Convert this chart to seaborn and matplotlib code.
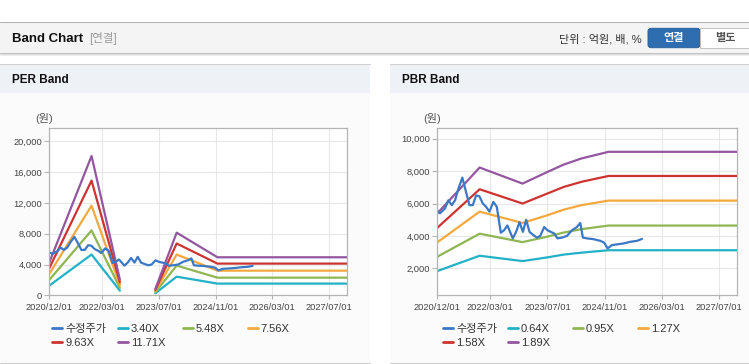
import matplotlib
matplotlib.use("Agg")
import matplotlib.pyplot as plt
import matplotlib.transforms as mtransforms
from matplotlib.patches import Rectangle, FancyBboxPatch
from matplotlib.lines import Line2D
import numpy as np
import pandas as pd
import seaborn as sns

W, H = 749, 364

# adjusted share price (shared by both charts)
price_dates = [
    "2020-12-01", "2020-12-29", "2021-02-10", "2021-03-10", "2021-04-08", "2021-05-06",
    "2021-06-03", "2021-07-07", "2021-08-08", "2021-09-05", "2021-10-04", "2021-11-01",
    "2021-11-29", "2021-12-28", "2022-01-25", "2022-02-22", "2022-03-28", "2022-04-26",
    "2022-05-30", "2022-06-27", "2022-07-25", "2022-08-17", "2022-09-09", "2022-10-07",
    "2022-11-05", "2022-12-04", "2023-01-01", "2023-01-29", "2023-03-04", "2023-04-02",
    "2023-04-30", "2023-06-03", "2023-07-01", "2023-07-30", "2023-08-27", "2023-09-24",
    "2023-11-01", "2023-12-13", "2024-01-25", "2024-03-07", "2024-04-05", "2024-04-27",
    "2024-06-01", "2024-07-27", "2024-09-22", "2024-10-26", "2024-11-23", "2024-12-31",
    "2025-02-11", "2025-04-09", "2025-06-05", "2025-08-01", "2025-09-12",
]
price = [
    5600, 5400, 5700, 6200, 5900, 6200,
    6900, 7600, 6700, 5900, 5900, 6500,
    6450, 6000, 5800, 5500, 6100, 5800,
    4200, 4350, 4650, 4250, 3850, 4250,
    4850, 4250, 5000, 4250, 4050, 3900,
    4000, 4550, 4350, 4250, 4150, 3850,
    3900, 4000, 4350, 4550, 4800, 3900,
    3850, 3800, 3700, 3580, 3230, 3440,
    3480, 3540, 3640, 3700, 3820,
]

# PER band (NaN = no value, line breaks)
per_dates = ["2020-12-01", "2021-12-01", "2022-08-01", "2023-03-01",
             "2023-06-01", "2023-12-01", "2024-11-15", "2027-12-01"]
per_labels = ["3.40X", "5.48X", "7.56X", "9.63X", "11.71X"]
per_340 = [1230, 5300, 600, np.nan, 260, 2420, 1520, 1520]
per_548 = [1960, 8430, 950, np.nan, 410, 3860, 2290, 2290]
per_756 = [2720, 11650, 1320, np.nan, 550, 5300, 3200, 3200]
per_963 = [3450, 14900, 1680, np.nan, 690, 6730, 4120, 4120]
per_1171 = [4170, 18100, 2030, np.nan, 820, 8140, 4940, 4940]

# PBR band
pbr_dates = ["2020-12-01", "2021-12-01", "2022-12-01", "2023-07-01",
             "2023-11-15", "2024-04-15", "2024-12-01", "2027-12-01"]
pbr_labels = ["0.64X", "0.95X", "1.27X", "1.58X", "1.89X"]
pbr_064 = [1820, 2780, 2450, 2680, 2850, 2970, 3120, 3120]
pbr_095 = [2700, 4140, 3620, 3960, 4210, 4420, 4640, 4640]
pbr_127 = [3580, 5500, 4800, 5280, 5620, 5900, 6180, 6180]
pbr_158 = [4470, 6880, 6000, 6620, 7020, 7340, 7700, 7700]
pbr_189 = [5350, 8220, 7230, 7950, 8400, 8780, 9190, 9190]

x_ticks = ["2020/12/01", "2022/03/01", "2023/07/01", "2024/11/01", "2026/03/01", "2027/07/01"]
per_yticks = [0, 4000, 8000, 12000, 16000, 20000]
pbr_yticks = [2000, 4000, 6000, 8000, 10000]

price_label = "수정주가"
price_color = "#3b78c6"
band_colors = ["#22b1c6", "#8fb653", "#f4a93e", "#cc3431", "#93569f"]

sns.set_style("white")
plt.rcParams["font.family"] = ["Liberation Sans", "Noto Sans CJK KR"]

fig = plt.figure(figsize=(W / 100, H / 100), dpi=100)
fig.patch.set_facecolor("white")
# pixel coordinates, y going down like the screenshot
px = mtransforms.Affine2D().scale(1 / W, -1 / H).translate(0, 1) + fig.transFigure


def rect(x0, y0, x1, y1, fc, ec="none", z=-5):
    fig.add_artist(Rectangle((x0, y0), x1 - x0, y1 - y0, transform=px,
                             facecolor=fc, edgecolor=ec, lw=0.7, zorder=z))


def hline(y, x0, x1, color):
    fig.add_artist(Line2D([x0, x1], [y, y], transform=px, color=color, lw=0.75, zorder=-4))


# header bar
rect(0, 22, W, 52.5, "#f4f4f4")
hline(22.3, 0, W, "#b2b2b2")
hline(52.6, 0, W, "#c2c2c2")
hline(53.6, 0, W, "#dedede")
hline(54.6, 0, W, "#eeeeee")
fig.text(11.5, 38.5, "Band Chart", transform=px, fontsize=9.5, weight="bold", va="center", color="#111111")
fig.text(89, 38.5, "[연결]", transform=px, fontsize=8.3, va="center", color="#999999")
fig.text(642, 39, "단위 : 억원, 배, %", transform=px, fontsize=8, va="center", ha="right", color="#333333")
fig.add_artist(FancyBboxPatch((648, 28.3), 52, 19.4, boxstyle="round,pad=0,rounding_size=3",
                              transform=px, fc="#2f6db1", ec="#2a62a0", lw=0.7))
fig.text(674, 38.5, "연결", transform=px, fontsize=8, weight="bold", va="center", ha="center", color="white")
rect(700, 28.3, 752, 47.7, "white", ec="#c0c0c0", z=1)
fig.text(725, 38.5, "별도", transform=px, fontsize=8, weight="bold", va="center", ha="center", color="#555555")

# panels
for x0, x1, title in [(0, 370, "PER Band"), (390, W, "PBR Band")]:
    rect(x0, 64, x1, 363, "#fbfbfb")
    rect(x0, 64, x1, 92.5, "#eef1f6")
    hline(64.3, x0, x1, "#d0d0d0")
    hline(363, x0, x1, "#cccccc")
    fig.text(x0 + 11.5, 80, title, transform=px, fontsize=8.5, weight="bold", va="center", color="#111111")


def long_frame(dates, bands, labels):
    frames = []
    for lab, vals in zip(labels, bands):
        v = pd.Series(vals, dtype=float)
        frames.append(pd.DataFrame({"date": pd.to_datetime(dates), "value": v,
                                    "series": lab, "seg": v.isna().cumsum()}).dropna())
    frames.append(pd.DataFrame({"date": pd.to_datetime(price_dates), "value": price,
                                "series": price_label, "seg": 0}))
    return pd.concat(frames, ignore_index=True)


def draw_panel(rect_px, dates, bands, labels, yticks, ylim, unit_x, legend_x):
    x0, y0, x1, y1 = rect_px
    ax = fig.add_axes([x0 / W, 1 - y1 / H, (x1 - x0) / W, (y1 - y0) / H])
    df = long_frame(dates, bands, labels)
    palette = dict(zip(labels, band_colors))
    palette[price_label] = price_color
    sns.lineplot(data=df, x="date", y="value", hue="series", hue_order=labels + [price_label],
                 palette=palette, units="seg", estimator=None, linewidth=1.6,
                 legend=False, ax=ax)
    ax.set_facecolor("white")
    ax.set_xlim(pd.Timestamp("2020-12-01"), pd.Timestamp("2027-12-01"))
    ax.set_ylim(*ylim)
    ax.set_xticks(pd.to_datetime(x_ticks))
    ax.set_xticklabels(x_ticks)
    ax.set_yticks(yticks)
    ax.set_yticklabels([f"{v:,}" for v in yticks])
    ax.set_xlabel("")
    ax.set_ylabel("")
    ax.grid(True, color="#e8e8e8", linewidth=0.8)
    ax.set_axisbelow(True)
    for s in ax.spines.values():
        s.set_visible(True)
        s.set_color("#b4b4b4")
        s.set_linewidth(0.9)
    ax.tick_params(axis="both", colors="#b4b4b4", labelcolor="#444444", labelsize=6.7,
                   length=3.6, width=0.8, direction="out")
    ax.tick_params(axis="y", pad=1.2, left=True)
    ax.tick_params(axis="x", pad=2.5, bottom=True, length=3)
    fig.text(unit_x, 118, "(원)", transform=px, fontsize=8, ha="center", va="center", color="#555555")

    # legend laid out in fixed-width columns, row by row
    entries = [(price_label, price_color)] + list(zip(labels, band_colors))
    columns = [[entries[0], entries[4]], [entries[1], entries[5]], [entries[2]], [entries[3]]]
    for i, col in enumerate(columns):
        handles = [Line2D([], [], color=c, lw=2) for _, c in col]
        leg = ax.legend(handles, [lab for lab, _ in col], loc="upper left",
                        bbox_to_anchor=((legend_x + i * 65) / W, 1 - 324 / H),
                        bbox_transform=fig.transFigure, frameon=False, fontsize=8,
                        handlelength=0.9, handletextpad=0.3, labelspacing=0.33,
                        borderpad=0, borderaxespad=0, labelcolor="#333333")
        if i < len(columns) - 1:
            ax.add_artist(leg)
    return ax


draw_panel((49, 128.3, 347, 295.3), per_dates, [per_340, per_548, per_756, per_963, per_1171],
           per_labels, per_yticks, (0, 21700), 44, 52.5)
draw_panel((436.7, 128.3, 737.3, 295.3), pbr_dates, [pbr_064, pbr_095, pbr_127, pbr_158, pbr_189],
           pbr_labels, pbr_yticks, (340, 10640), 432, 442.7)

fig.savefig("out.png", dpi=100, facecolor=fig.get_facecolor())
